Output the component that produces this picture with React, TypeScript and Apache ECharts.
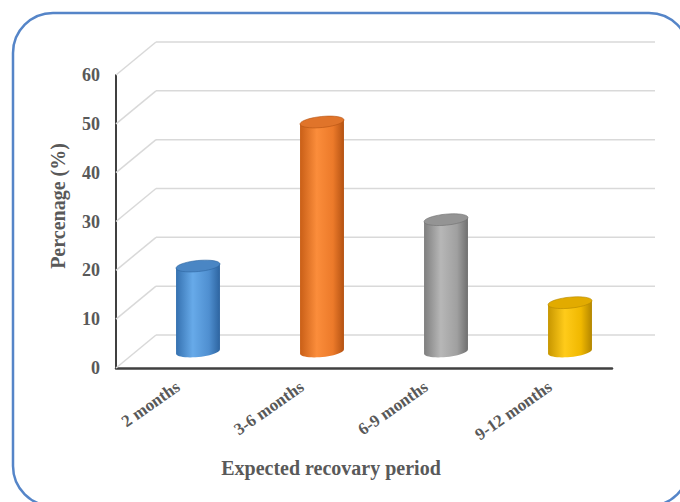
import React, { useEffect, useRef } from "react";
import * as echarts from "echarts";

// Expected recovery period vs. share of respondents (%)
const categories = ["2 months", "3-6 months", "6-9 months", "9-12 months"];
const percentages = [17.5, 47, 27, 10];
const yTicks = [0, 10, 20, 30, 40, 50, 60];

// Cylinder shading per bar: [edge dark, highlight, mid, right edge, top cap]
const barShades = [
  ["#3571b0", "#67aae9", "#4f8fd0", "#2d64a0", "#4a86c4"],
  ["#c95f17", "#fb8d3b", "#ec7a2a", "#b45212", "#e0742a"],
  ["#7e7e7e", "#b7b7b7", "#a0a0a0", "#6f6f6f", "#949494"],
  ["#c79600", "#ffcb1a", "#f0b800", "#b38600", "#e2ab00"],
];

const FONT = "'Liberation Serif', 'Times New Roman', serif";
const TEXT_COLOR = "#595959";
const DEPTH_X = 40;
const DEPTH_Y = -33;

function ellipsePoints(cx: number, cy: number, a: number, b: number, phi: number, t0: number, t1: number, n: number) {
  const pts: number[][] = [];
  const ux = Math.cos(phi), uy = -Math.sin(phi);
  const vx = Math.sin(phi), vy = Math.cos(phi);
  for (let i = 0; i <= n; i++) {
    const t = t0 + ((t1 - t0) * i) / n;
    pts.push([cx + a * Math.cos(t) * ux + b * Math.sin(t) * vx, cy + a * Math.cos(t) * uy + b * Math.sin(t) * vy]);
  }
  return pts;
}

export default function App() {
  const ref = useRef<HTMLDivElement>(null);

  useEffect(() => {
    if (!ref.current) return;
    const chart = echarts.init(ref.current, undefined, { renderer: "svg" });

    const option: any = {
      animation: false,
      backgroundColor: "#ffffff",
      grid: { left: 116, right: 68, top: 75, bottom: 134, containLabel: false },
      xAxis: {
        type: "category",
        data: categories,
        axisLine: { show: true, lineStyle: { color: "#404040", width: 2.5 } },
        axisTick: { show: false },
        axisLabel: {
          interval: 0,
          rotate: 35,
          margin: 17,
          color: TEXT_COLOR,
          fontFamily: FONT,
          fontWeight: "bold",
          fontSize: 17,
        },
        splitLine: { show: false },
      },
      yAxis: {
        type: "value",
        min: 0,
        max: 60,
        interval: 10,
        axisLine: { show: true, lineStyle: { color: "#404040", width: 2 } },
        axisTick: { show: false },
        axisLabel: {
          margin: 16,
          color: TEXT_COLOR,
          fontFamily: FONT,
          fontWeight: "bold",
          fontSize: 18,
        },
        splitLine: { show: false },
      },
      graphic: [
        {
          type: "rect",
          shape: { x: 13, y: 13, width: 676, height: 493, r: 40 },
          style: { fill: "none", stroke: "#5585c8", lineWidth: 2.5 },
          z: 0,
          silent: true,
        },
        {
          type: "text",
          x: 58,
          y: 206,
          rotation: Math.PI / 2,
          style: {
            text: "Percenage (%)",
            font: `bold 20px ${FONT}`,
            fill: TEXT_COLOR,
            textAlign: "center",
            textVerticalAlign: "middle",
          },
          silent: true,
        },
        {
          type: "text",
          x: 331,
          y: 468,
          style: {
            text: "Expected recovary period",
            font: `bold 20px ${FONT}`,
            fill: TEXT_COLOR,
            textAlign: "center",
            textVerticalAlign: "middle",
          },
          silent: true,
        },
      ],
      series: [
        {
          // back wall gridlines plus the receding side-wall lines
          type: "custom",
          z: 1,
          clip: false,
          silent: true,
          data: yTicks.map((v) => [0, v]),
          encode: { x: 0, y: 1 },
          renderItem: (params: any, api: any) => {
            const cs = params.coordSys;
            const y = api.coord([0, api.value(1)])[1];
            const x0 = cs.x;
            const style = { stroke: "#d9d9d9", lineWidth: 1.5 };
            return {
              type: "group",
              children: [
                { type: "line", shape: { x1: x0, y1: y, x2: x0 + DEPTH_X, y2: y + DEPTH_Y }, style },
                { type: "line", shape: { x1: x0 + DEPTH_X, y1: y + DEPTH_Y, x2: x0 + cs.width + DEPTH_X + 3, y2: y + DEPTH_Y }, style },
              ],
            };
          },
        },
        {
          // cylinders
          type: "custom",
          z: 3,
          clip: false,
          data: percentages.map((v, i) => [i, v]),
          encode: { x: 0, y: 1 },
          renderItem: (params: any, api: any) => {
            const idx = api.value(0);
            const val = api.value(1);
            const top = api.coord([idx, val]);
            const base = api.coord([idx, 0]);
            const cx = top[0] + DEPTH_X / 2;
            const yt = top[1] + DEPTH_Y / 2;
            const yb = base[1] + DEPTH_Y / 2;
            const a = api.size([1, 0])[0] * 0.178;
            const b = 5.5;
            const phi = 0.1;
            const sh = barShades[idx];
            const lowerArc = ellipsePoints(cx, yb, a, b, phi, Math.PI, 0, 24);
            const tl = [cx - a * Math.cos(phi), yt + a * Math.sin(phi)];
            const tr = [cx + a * Math.cos(phi), yt - a * Math.sin(phi)];
            const body = [tl, ...lowerArc, tr];
            const cap = ellipsePoints(cx, yt, a, b, phi, 0, Math.PI * 2, 40);
            return {
              type: "group",
              children: [
                {
                  type: "polygon",
                  shape: { points: body },
                  style: {
                    fill: new echarts.graphic.LinearGradient(0, 0, 1, 0, [
                      { offset: 0, color: sh[0] },
                      { offset: 0.38, color: sh[1] },
                      { offset: 0.75, color: sh[2] },
                      { offset: 1, color: sh[3] },
                    ]),
                  },
                },
                {
                  type: "polygon",
                  shape: { points: cap },
                  style: { fill: sh[4], stroke: sh[3], lineWidth: 0.6 },
                },
              ],
            };
          },
        },
      ],
    };

    chart.setOption(option);
    return () => chart.dispose();
  }, []);

  return (
    <div
      ref={ref}
      style={{ position: "fixed", left: 0, top: 0, width: 680, height: 502 }}
    />
  );
}
